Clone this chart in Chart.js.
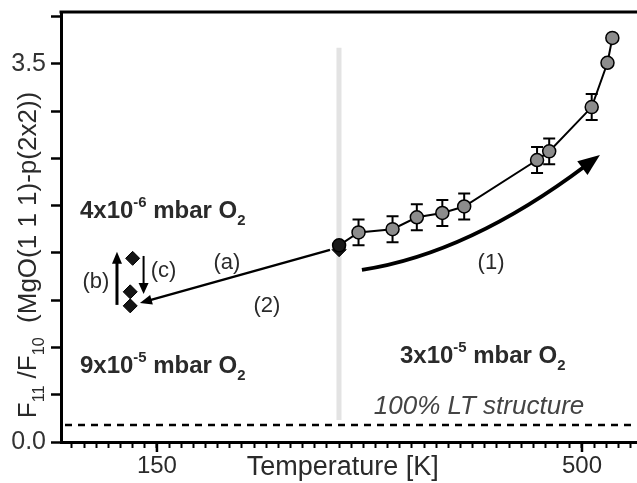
<!DOCTYPE html>
<html>
<head>
<meta charset="utf-8">
<script src="https://cdn.jsdelivr.net/npm/chart.js@4/dist/chart.umd.min.js"></script>
<style>
body{margin:0;background:#fff;overflow:hidden}
canvas{display:block}
</style>
</head>
<body>
<canvas id="grafico" width="637" height="483"></canvas>
<script>
// datos
const tempK    = [300, 316, 344, 364, 385, 403, 463, 473, 508, 521, 525];
const ratio    = [1.82, 1.94, 1.97, 2.08, 2.12, 2.18, 2.61, 2.69, 3.10, 3.51, 3.74];
const ratioErr = [0, 0.12, 0.12, 0.12, 0.12, 0.12, 0.12, 0.12, 0.12, 0, 0];
const diamT = [300, 130, 128, 128];
const diamV = [1.78, 1.70, 1.39, 1.26];
const xTickLabels = [150, 500];
const yTickLabels = [0, 3.5];
const xStep = 10;
const yStep = 0.4375;
const ltLevel = 0.157;   // 100% LT structure

const FONT = '"Liberation Sans", Arial, sans-serif';
const TXT = '#2a2a2a';

// flechas y textos (en unidades de datos)
const arrowA = [292.5, 1.778, 136, 1.287];
const arrowB = [117.1, 1.269, 117.1, 1.76];
const arrowC = [139, 1.722, 139, 1.37];
const curve1 = [318.8, 1.593, 406.9, 1.745, 514.8, 2.657];
const grayLine = [299.9, 3.65, 0.204];

const notes = [
  {t: 86.6, v: 2.074, segs: [['4x10'], ['-6', 'sup'], [' mbar O'], ['2', 'sub']], bold: true, size: 24},
  {t: 86.6, v: 0.639, segs: [['9x10'], ['-5', 'sup'], [' mbar O'], ['2', 'sub']], bold: true, size: 24},
  {t: 350.1, v: 0.731, segs: [['3x10'], ['-5', 'sup'], [' mbar O'], ['2', 'sub']], bold: true, size: 24},
  {t: 207.6, v: 1.60, segs: [['(a)']], size: 22, center: true},
  {t: 99.8, v: 1.43, segs: [['(b)']], size: 22, center: true},
  {t: 155.5, v: 1.525, segs: [['(c)']], size: 22, center: true},
  {t: 240.6, v: 1.20, segs: [['(2)']], size: 22, center: true},
  {t: 425.1, v: 1.60, segs: [['(1)']], size: 22, center: true},
];

function drawRich(ctx, segs, x, y, size, bold, center) {
  const w = bold ? 'bold ' : '';
  let total = 0;
  const parts = segs.map(s => {
    const sz = s[1] ? size * 0.62 : size;
    ctx.font = w + sz + 'px ' + FONT;
    const wd = ctx.measureText(s[0]).width;
    total += wd;
    return {txt: s[0], kind: s[1], sz: sz, wd: wd};
  });
  let cx = center ? x - total / 2 : x;
  ctx.textAlign = 'left';
  ctx.textBaseline = 'alphabetic';
  parts.forEach(p => {
    ctx.font = w + p.sz + 'px ' + FONT;
    let dy = 0;
    if (p.kind == 'sup') dy = -size * 0.45;
    if (p.kind == 'sub') dy = size * 0.3;
    ctx.fillText(p.txt, cx, y + dy);
    cx += p.wd;
  });
}

function arrow(ctx, x0, y0, x1, y1, len, wid, lw) {
  const ang = Math.atan2(y1 - y0, x1 - x0);
  const bx = x1 - Math.cos(ang) * len * 0.8, by = y1 - Math.sin(ang) * len * 0.8;
  ctx.lineWidth = lw;
  ctx.beginPath(); ctx.moveTo(x0, y0); ctx.lineTo(bx, by); ctx.stroke();
  ctx.beginPath();
  ctx.moveTo(x1, y1);
  ctx.lineTo(x1 - Math.cos(ang) * len - Math.sin(ang) * wid / 2, y1 - Math.sin(ang) * len + Math.cos(ang) * wid / 2);
  ctx.lineTo(x1 - Math.cos(ang) * len + Math.sin(ang) * wid / 2, y1 - Math.sin(ang) * len - Math.cos(ang) * wid / 2);
  ctx.closePath(); ctx.fill();
}

const decor = {
  id: 'decor',
  beforeDatasetsDraw(chart) {
    const {ctx, chartArea: a, scales: {x, y}} = chart;
    ctx.save();
    // linea gris vertical
    ctx.strokeStyle = '#e3e3e3'; ctx.lineWidth = 5;
    ctx.beginPath();
    ctx.moveTo(x.getPixelForValue(grayLine[0]), y.getPixelForValue(grayLine[1]));
    ctx.lineTo(x.getPixelForValue(grayLine[0]), y.getPixelForValue(grayLine[2]));
    ctx.stroke();
    // linea discontinua
    ctx.strokeStyle = '#000'; ctx.lineWidth = 2.5; ctx.setLineDash([7, 6]);
    ctx.beginPath();
    ctx.moveTo(a.left + 4, y.getPixelForValue(ltLevel));
    ctx.lineTo(chart.width, y.getPixelForValue(ltLevel));
    ctx.stroke();
    ctx.setLineDash([]);
    // barras de error
    ctx.lineWidth = 2;
    for (let i = 0; i < tempK.length; i++) {
      if (!ratioErr[i]) continue;
      const px = x.getPixelForValue(tempK[i]);
      const y0 = y.getPixelForValue(ratio[i] - ratioErr[i]);
      const y1 = y.getPixelForValue(ratio[i] + ratioErr[i]);
      ctx.beginPath();
      ctx.moveTo(px, y0); ctx.lineTo(px, y1);
      ctx.moveTo(px - 6, y0); ctx.lineTo(px + 6, y0);
      ctx.moveTo(px - 6, y1); ctx.lineTo(px + 6, y1);
      ctx.stroke();
    }
    ctx.restore();
  },
  afterDatasetsDraw(chart) {
    const {ctx, scales: {x, y}} = chart;
    ctx.save();
    ctx.strokeStyle = '#000'; ctx.fillStyle = '#000';
    const P = (t, v) => [x.getPixelForValue(t), y.getPixelForValue(v)];
    let p0 = P(arrowA[0], arrowA[1]), p1 = P(arrowA[2], arrowA[3]);
    arrow(ctx, p0[0], p0[1], p1[0], p1[1], 12, 10, 2.5);
    p0 = P(arrowB[0], arrowB[1]); p1 = P(arrowB[2], arrowB[3]);
    arrow(ctx, p0[0], p0[1], p1[0], p1[1], 12, 10, 3);
    p0 = P(arrowC[0], arrowC[1]); p1 = P(arrowC[2], arrowC[3]);
    arrow(ctx, p0[0], p0[1], p1[0], p1[1], 11, 10, 2);
    // flecha curva (1)
    const c0 = P(curve1[0], curve1[1]), c1 = P(curve1[2], curve1[3]), c2 = P(curve1[4], curve1[5]);
    const ang = Math.atan2(c2[1] - c1[1], c2[0] - c1[0]);
    const len = 22, wid = 17;
    const e = [c2[0] - Math.cos(ang) * len * 0.8, c2[1] - Math.sin(ang) * len * 0.8];
    ctx.lineWidth = 4;
    ctx.beginPath(); ctx.moveTo(c0[0], c0[1]); ctx.quadraticCurveTo(c1[0], c1[1], e[0], e[1]); ctx.stroke();
    ctx.beginPath();
    ctx.moveTo(c2[0], c2[1]);
    ctx.lineTo(c2[0] - Math.cos(ang) * len - Math.sin(ang) * wid / 2, c2[1] - Math.sin(ang) * len + Math.cos(ang) * wid / 2);
    ctx.lineTo(c2[0] - Math.cos(ang) * len + Math.sin(ang) * wid / 2, c2[1] - Math.sin(ang) * len - Math.cos(ang) * wid / 2);
    ctx.closePath(); ctx.fill();
    // textos
    ctx.fillStyle = TXT;
    notes.forEach(n => {
      drawRich(ctx, n.segs, x.getPixelForValue(n.t), y.getPixelForValue(n.v), n.size, n.bold, n.center);
    });
    ctx.fillStyle = '#444';
    ctx.font = 'italic 26px ' + FONT;
    ctx.textAlign = 'center'; ctx.textBaseline = 'middle';
    ctx.fillText('100% LT structure', x.getPixelForValue(415.2), y.getPixelForValue(0.324));
    ctx.restore();
  },
  afterDraw(chart) {
    const {ctx, chartArea: a, scales: {x, y}} = chart;
    ctx.save();
    // borde superior
    ctx.strokeStyle = '#000'; ctx.lineWidth = 3;
    ctx.beginPath(); ctx.moveTo(a.left - 1.5, a.top); ctx.lineTo(chart.width, a.top); ctx.stroke();
    // marcas mayores
    ctx.lineWidth = 2.5;
    xTickLabels.forEach(v => {
      const px = x.getPixelForValue(v);
      ctx.beginPath(); ctx.moveTo(px, a.bottom); ctx.lineTo(px, a.bottom + 10); ctx.stroke();
    });
    // titulo eje x
    ctx.fillStyle = TXT;
    ctx.font = '27px ' + FONT;
    ctx.textAlign = 'center'; ctx.textBaseline = 'middle';
    ctx.fillText('Temperature [K]', x.getPixelForValue(303), a.bottom + 26);
    // titulo eje y
    ctx.translate(36, 255);
    ctx.rotate(-Math.PI / 2);
    drawRich(ctx, [['F'], ['11', 'sub'], [' /F'], ['10', 'sub'], ['  (MgO(1 1 1)-p(2x2))']], 0, 0, 26, false, true);
    ctx.restore();
  }
};

new Chart(document.getElementById('grafico'), {
  type: 'scatter',
  data: {
    datasets: [{
      data: tempK.map((t, i) => ({x: t, y: ratio[i]})),
      showLine: true,
      borderColor: '#000',
      borderWidth: 2,
      pointRadius: 6.5,
      pointBackgroundColor: tempK.map((t, i) => i == 0 ? '#1a1a1a' : '#8c8c8c'),
      pointBorderColor: '#000',
      pointBorderWidth: 1.5,
      order: 0
    }, {
      data: diamT.map((t, i) => ({x: t, y: diamV[i]})),
      showLine: false,
      pointStyle: 'rectRot',
      pointRadius: 7,
      pointBackgroundColor: '#151515',
      pointBorderColor: '#000',
      pointBorderWidth: 1,
      order: 1
    }]
  },
  options: {
    responsive: false,
    animation: false,
    devicePixelRatio: 1,
    layout: {autoPadding: false, padding: {left: 0, right: 0, top: 12, bottom: 0}},
    plugins: {legend: {display: false}, tooltip: {enabled: false}},
    scales: {
      x: {
        type: 'linear', min: 71, max: 545.3,
        afterBuildTicks: s => {
          const arr = [];
          for (let v = 80; v <= 540; v += xStep) arr.push({value: v});
          s.ticks = arr;
        },
        afterFit: s => { s.height = 41; s.paddingLeft = 0; s.paddingRight = 0; },
        border: {display: true, color: '#000', width: 3},
        grid: {drawOnChartArea: false, tickLength: 6, tickWidth: 2, tickColor: '#000'},
        ticks: {
          autoSkip: false, maxRotation: 0, padding: 4, color: TXT,
          font: {family: FONT, size: 24},
          callback: v => xTickLabels.includes(v) ? String(v) : ''
        }
      },
      y: {
        type: 'linear', min: 0, max: 3.98,
        afterBuildTicks: s => {
          const arr = [];
          for (let i = 0; i * yStep <= 3.98; i++) arr.push({value: i * yStep});
          s.ticks = arr;
        },
        afterFit: s => { s.width = 61; s.paddingTop = 0; s.paddingBottom = 0; },
        border: {display: true, color: '#000', width: 3},
        grid: {drawOnChartArea: false, tickLength: 10, tickWidth: 2.5, tickColor: '#000'},
        ticks: {
          autoSkip: false, padding: 5, color: '#333',
          font: {family: FONT, size: 25},
          callback: v => yTickLabels.includes(v) ? v.toFixed(1) : ''
        }
      }
    }
  },
  plugins: [decor]
});
</script>
</body>
</html>
